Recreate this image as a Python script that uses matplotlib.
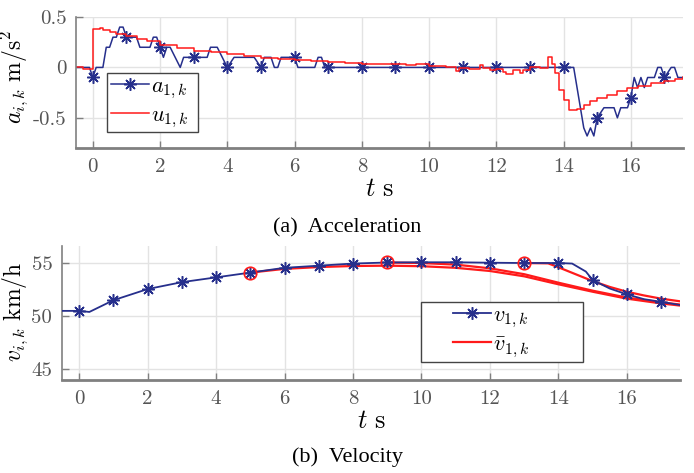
import numpy as np
import matplotlib
matplotlib.use("Agg")
import matplotlib.pyplot as plt
from matplotlib.patches import Rectangle

plt.rcParams["mathtext.fontset"] = "cm"
plt.rcParams["axes.unicode_minus"] = False

# --- acceleration a_{1,k} (knots of the measured signal) ---
acc_t = [-0.5, -0.1, 0.0, 0.1, 0.3, 0.4, 0.5, 0.6, 0.7, 0.8, 0.9, 1.0, 1.3, 1.4,
         1.7, 1.8, 1.9, 2.0, 2.1, 2.2, 2.3, 2.6, 2.7, 3.0, 3.4, 3.5, 3.7, 4.0,
         4.2, 4.8, 5.0, 5.1, 5.3, 5.4, 5.5, 5.6, 6.0, 6.1, 6.6, 6.7, 6.8, 6.9,
         7.0, 8.0, 9.0, 10.0, 11.0, 12.0, 13.0, 14.0, 14.3, 14.6, 14.7, 14.8,
         14.9, 15.0, 15.2, 15.5, 15.6, 15.7, 15.9, 16.0, 16.1, 16.2, 16.3, 16.4,
         16.5, 16.7, 16.8, 16.9, 17.0, 17.2, 17.3, 17.4, 17.55]
acc_v = [0.0, 0.0, -0.1, 0.0, 0.0, 0.2, 0.2, 0.3, 0.3, 0.4, 0.4, 0.3, 0.3, 0.2,
         0.2, 0.3, 0.3, 0.2, 0.1, 0.2, 0.2, 0.0, 0.1, 0.1, 0.1, 0.2, 0.2, 0.0,
         0.1, 0.1, 0.0, 0.1, 0.1, 0.0, 0.0, 0.1, 0.1, 0.0, 0.0, 0.1, 0.1, 0.0,
         0.0, 0.0, 0.0, 0.0, 0.0, 0.0, 0.0, 0.0, 0.0, -0.6, -0.68, -0.6,
         -0.68, -0.5, -0.4, -0.4, -0.5, -0.4, -0.4, -0.3, -0.1, -0.2, -0.1, -0.2,
         -0.1, -0.1, 0.0, 0.0, -0.1, 0.0, 0.0, -0.1, -0.1]

# --- control input u_{1,k} (stairs) ---
u_t = [-0.5, -0.3, 0.0, 0.2, 0.3, 0.5, 0.7, 1.0, 1.3, 1.6, 2.0, 2.5, 3.0, 3.5,
       4.0, 4.5, 5.0, 5.5, 6.0, 6.5, 7.0, 7.5, 8.0, 8.5, 9.0, 9.3, 9.6, 10.0,
       10.5, 10.8, 10.9, 11.2, 11.5, 11.6, 11.8, 12.0, 12.2, 12.3, 12.5, 12.7,
       12.8, 13.0, 13.3, 13.55, 13.65, 13.75, 13.85, 14.0, 14.15, 14.4, 14.6,
       14.8, 15.0, 15.3, 15.6, 15.9, 16.2, 16.6, 17.0, 17.3, 17.55]
u_v = [0.0, -0.02, 0.38, 0.39, 0.37, 0.35, 0.33, 0.31, 0.28, 0.26, 0.22, 0.19,
       0.16, 0.15, 0.13, 0.11, 0.09, 0.08, 0.07, 0.06, 0.05, 0.04, 0.03, 0.03,
       0.03, 0.02, 0.03, 0.01, 0.0, -0.04, -0.01, -0.02, 0.02, -0.01, -0.03,
       -0.02, -0.05, -0.07, -0.03, -0.06, -0.03, 0.0, -0.01, 0.1, 0.03, -0.06,
       -0.22, -0.32, -0.42, -0.41, -0.37, -0.33, -0.3, -0.27, -0.23, -0.2,
       -0.18, -0.15, -0.13, -0.11, -0.1]

# --- velocity v_{1,k} ---
vel_t = [-0.5, 0, 0.3, 1, 2, 3, 4, 5, 6, 7, 8, 9, 10, 11, 12, 13, 14, 14.4,
         14.8, 15, 15.5, 16, 16.5, 17, 17.55]
vel_v = [50.5, 50.5, 50.4, 51.5, 52.55, 53.2, 53.65, 54.1, 54.55, 54.75, 54.95,
         55.05, 55.07, 55.07, 55.03, 55.0, 55.0, 54.95, 54.2, 53.4, 52.6, 52.05,
         51.6, 51.35, 51.05]

# --- predicted velocities \bar v_{1,k} ---
pred5_t = [5, 6, 7, 8, 9, 10, 11, 12, 13, 14, 15, 16, 17, 17.55]
pred5_v = [54.1, 54.45, 54.62, 54.72, 54.75, 54.7, 54.55, 54.25, 53.75, 53.0,
           52.3, 51.65, 51.2, 51.0]
pred9_t = [9, 10, 11, 12, 13, 14, 15, 16, 17, 17.55]
pred9_v = [55.05, 55.0, 54.85, 54.5, 53.95, 53.15, 52.4, 51.75, 51.3, 51.1]
pred13_t = [13, 13.7, 14, 14.5, 15, 15.5, 16, 16.5, 17, 17.55]
pred13_v = [55.0, 54.97, 54.6, 53.95, 53.3, 52.75, 52.3, 51.95, 51.65, 51.4]

blue = "#262f8c"
red = "#ff1a1a"
gray = "#808080"
tick_gray = "#555555"
ast = (8, 2, 0)


def style_axes(ax):
    ax.grid(True, color="#e3e3e3", linewidth=1.0)
    ax.set_axisbelow(True)
    for s in ["top", "right"]:
        ax.spines[s].set_visible(False)
    ax.spines["left"].set_color(gray)
    ax.spines["bottom"].set_color(gray)
    ax.spines["left"].set_linewidth(1.2)
    ax.spines["bottom"].set_linewidth(2.0)
    ax.tick_params(direction="in", length=5, width=1, color=gray,
                   labelcolor=tick_gray, pad=7)
    ax.set_xlim(-0.5, 17.55)
    ax.set_xticks(range(0, 17, 2))
    ax.set_xticklabels([str(v) for v in range(0, 17, 2)], family="cmr10", fontsize=15)
    ax.set_xlabel(r"$t\ \mathrm{s}$", fontsize=19, labelpad=0)


def integer_marks(t):
    t = np.asarray(t, dtype=float)
    return list(np.where(np.isclose(t, np.round(t)) & (t >= 0))[0])


def boxed_legend(ax, box, anchor):
    # MATLAB-like legend: square frame drawn separately, entries inside
    x0, y0, x1, y1 = box
    ax.add_patch(Rectangle((x0, y0), x1 - x0, y1 - y0, transform=ax.transAxes,
                           facecolor="white", edgecolor="#444444", lw=1.0,
                           zorder=4.5, clip_on=False))
    leg = ax.legend(loc="center left", bbox_to_anchor=anchor, fontsize=16,
                    handlelength=1.7, handletextpad=0.1, borderpad=0,
                    labelspacing=0.2, borderaxespad=0, frameon=False)
    leg.set_zorder(5)
    return leg


fig = plt.figure(figsize=(6.94, 4.73), dpi=100)

ax1 = fig.add_axes([0.1095, 0.687, 0.8746, 0.277])
style_axes(ax1)
ax1.plot(acc_t, acc_v, color=blue, lw=1.1, marker=ast, ms=9, mew=1.1,
         markevery=integer_marks(acc_t), label=r"$a_{1,k}$")
ax1.plot(u_t, u_v, color=red, lw=1.1, drawstyle="steps-post", label=r"$u_{1,k}$")
ax1.set_ylim(-0.8, 0.5)
ax1.set_yticks([-0.5, 0, 0.5])
ax1.set_yticklabels(["-0.5", "0", "0.5"], family="cmr10", fontsize=15)
ax1.set_ylabel(r"$a_{i,k}\ \mathrm{m/s^2}$", fontsize=17)
ax1.yaxis.set_label_coords(-0.074, 0.54)
boxed_legend(ax1, (0.0506, 0.120, 0.2015, 0.570), (0.058, 0.345))

ax2 = fig.add_axes([0.0893, 0.1966, 0.8905, 0.2833])
style_axes(ax2)
ax2.plot(vel_t, vel_v, color=blue, lw=1.3, marker=ast, ms=9, mew=1.1,
         markevery=integer_marks(vel_t), label=r"$v_{1,k}$", zorder=3)
ax2.plot(pred5_t, pred5_v, color=red, lw=1.6, label=r"$\bar{v}_{1,k}$", zorder=2)
ax2.plot(pred9_t, pred9_v, color=red, lw=1.6, zorder=2)
ax2.plot(pred13_t, pred13_v, color=red, lw=1.6, zorder=2)
ax2.plot([pred5_t[0], pred9_t[0], pred13_t[0]],
         [pred5_v[0], pred9_v[0], pred13_v[0]], linestyle="none", marker="o",
         ms=9, mfc="none", mec=red, mew=1.2, zorder=4)
ax2.set_ylim(44, 56.6)
ax2.set_yticks([45, 50, 55])
ax2.set_yticklabels(["45", "50", "55"], family="cmr10", fontsize=15)
ax2.set_ylabel(r"$v_{i,k}\ \mathrm{km/h}$", fontsize=17)
ax2.yaxis.set_label_coords(-0.051, 0.51)
boxed_legend(ax2, (0.581, 0.134, 0.843, 0.582), (0.633, 0.358))

fig.text(0.5, 1 - 228 / 473, "(a)  Acceleration", ha="center", va="center",
         family="Liberation Serif", fontsize=16)
fig.text(0.5, 1 - 457 / 473, "(b)  Velocity", ha="center", va="center",
         family="Liberation Serif", fontsize=16)

fig.savefig("out.png", dpi=100)
